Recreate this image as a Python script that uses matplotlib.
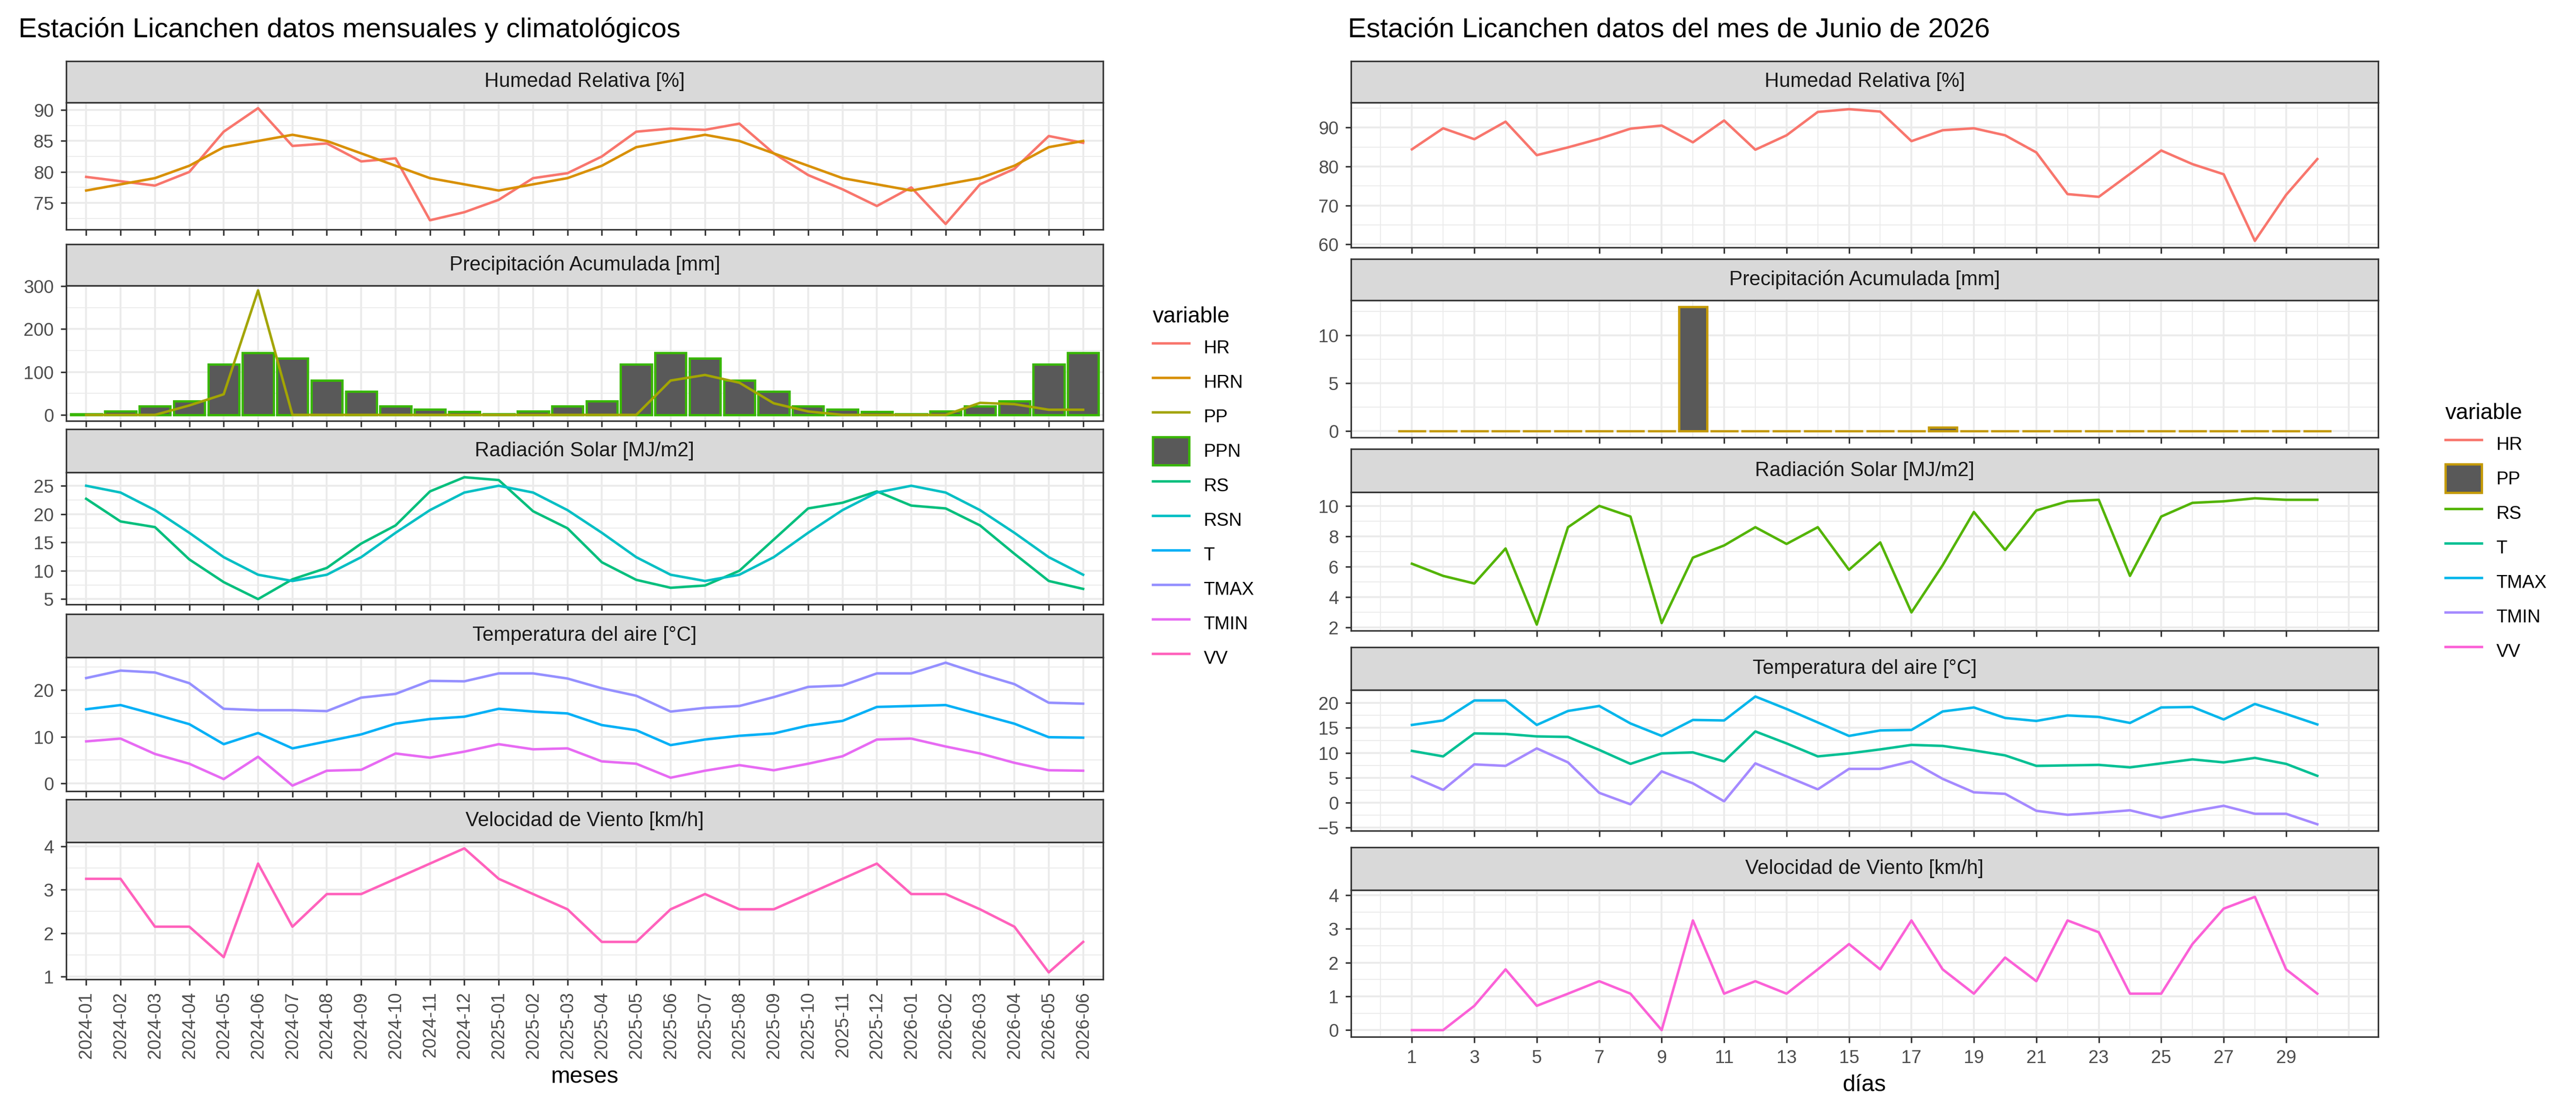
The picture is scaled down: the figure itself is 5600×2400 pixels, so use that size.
import numpy as np
import matplotlib
matplotlib.use('Agg')
import matplotlib.pyplot as plt
from matplotlib.lines import Line2D
from matplotlib.patches import Patch

plt.rcParams['font.family'] = ['Liberation Sans', 'DejaVu Sans']

# ---------------- monthly data ----------------
meses = ['2024-%02d' % m for m in range(1, 13)] + ['2025-%02d' % m for m in range(1, 13)] + ['2026-%02d' % m for m in range(1, 7)]
hr_m = [79.2, 78.5, 77.8, 80, 86.5, 90.3, 84.2, 84.6, 81.7, 82.2, 72.2, 73.5, 75.5, 79, 79.8, 82.5,
        86.5, 87, 86.8, 87.8, 83, 79.5, 77.2, 74.5, 77.5, 71.6, 78, 80.5, 85.8, 84.7]
hrn_year = [77, 78, 79, 81, 84, 85, 86, 85, 83, 81, 79, 78]
pp_m = [0, 0, 0, 22, 48, 290, 0, 0, 0, 0, 0, 0, 0, 0, 0, 0, 0, 80, 93, 75, 27, 8, 0, 0, 0, 0, 28, 25, 12, 12]
ppn_year = [2, 8, 20, 32, 118, 145, 132, 80, 55, 20, 13, 7]
rs_m = [22.7, 18.7, 17.7, 12, 8, 5, 8.5, 10.5, 14.8, 18, 24, 26.5, 26, 20.5, 17.5, 11.5, 8.4, 7, 7.4, 10,
        15.5, 21, 22, 24, 21.5, 21, 18, 13, 8.2, 6.8]
rsn_year = [25, 23.8, 20.7, 16.7, 12.4, 9.3, 8.2, 9.3, 12.4, 16.7, 20.7, 23.8]
t_m = [15.9, 16.8, 14.8, 12.7, 8.4, 10.8, 7.5, 9, 10.5, 12.8, 13.8, 14.3, 16, 15.4, 15, 12.5, 11.4, 8.2,
       9.4, 10.2, 10.7, 12.4, 13.4, 16.4, 16.6, 16.8, 14.8, 12.8, 9.9, 9.8]
tmax_m = [22.6, 24.2, 23.8, 21.5, 16, 15.7, 15.7, 15.5, 18.4, 19.2, 22, 21.9, 23.6, 23.6, 22.5, 20.4, 18.8,
          15.4, 16.2, 16.6, 18.5, 20.7, 21, 23.6, 23.6, 25.9, 23.5, 21.3, 17.3, 17.1]
tmin_m = [9, 9.6, 6.3, 4.2, 0.9, 5.7, -0.5, 2.7, 2.9, 6.4, 5.5, 6.8, 8.4, 7.3, 7.5, 4.7, 4.2, 1.2, 2.7, 3.9,
          2.8, 4.2, 5.8, 9.4, 9.6, 7.9, 6.4, 4.4, 2.8, 2.7]
vv_m = [3.25, 3.25, 2.15, 2.15, 1.45, 3.6, 2.15, 2.9, 2.9, 3.25, 3.6, 3.95, 3.25, 2.9, 2.55, 1.8, 1.8, 2.55,
        2.9, 2.55, 2.55, 2.9, 3.25, 3.6, 2.9, 2.9, 2.55, 2.15, 1.1, 1.8]
hrn_m = [hrn_year[i % 12] for i in range(30)]
ppn_m = [ppn_year[i % 12] for i in range(30)]
rsn_m = [rsn_year[i % 12] for i in range(30)]

# ---------------- daily data ----------------
dias = list(range(1, 31))
hr_d = [84.4, 89.8, 87, 91.5, 82.9, 84.9, 87.1, 89.7, 90.5, 86.2, 91.8, 84.3, 88, 94, 94.7, 94.1, 86.5, 89.3,
        89.8, 88, 83.6, 72.9, 72.2, 78.1, 84.1, 80.6, 78, 60.9, 72.7, 81.9]
pp_d = [0] * 30
pp_d[9] = 13
pp_d[17] = 0.4
rs_d = [6.2, 5.4, 4.9, 7.2, 2.2, 8.6, 10, 9.3, 2.3, 6.6, 7.4, 8.6, 7.5, 8.6, 5.8, 7.6, 3.0, 6.1, 9.6, 7.1,
        9.7, 10.3, 10.4, 5.4, 9.3, 10.2, 10.3, 10.5, 10.4, 10.4]
tmax_d = [15.6, 16.5, 20.5, 20.5, 15.6, 18.4, 19.4, 15.9, 13.4, 16.6, 16.5, 21.3, 18.8, 16.1, 13.4, 14.5, 14.6,
          18.3, 19.1, 17, 16.4, 17.5, 17.2, 16, 19.1, 19.2, 16.7, 19.8, 17.8, 15.7]
t_d = [10.4, 9.3, 13.9, 13.8, 13.3, 13.2, 10.6, 7.8, 9.9, 10.1, 8.3, 14.3, 11.9, 9.3, 9.9, 10.7, 11.6, 11.4,
       10.5, 9.5, 7.4, 7.5, 7.6, 7.1, 7.9, 8.7, 8.1, 9, 7.8, 5.4]
tmin_d = [5.3, 2.6, 7.7, 7.4, 10.9, 8.1, 2, -0.3, 6.3, 3.9, 0.3, 7.9, 5.3, 2.7, 6.8, 6.8, 8.3, 4.8, 2.1, 1.8,
          -1.6, -2.4, -2, -1.5, -3, -1.7, -0.6, -2.2, -2.2, -4.3]
vv_d = [0, 0, 0.72, 1.8, 0.72, 1.08, 1.45, 1.08, 0, 3.25, 1.08, 1.45, 1.08, 1.8, 2.55, 1.8, 3.25, 1.8, 1.08,
        2.15, 1.45, 3.25, 2.9, 1.08, 1.08, 2.55, 3.6, 3.95, 1.8, 1.08]

# ggplot hue palettes
colL = dict(HR='#F8766D', HRN='#D89000', PP='#A3A500', PPN='#39B600', RS='#00BF7D', RSN='#00BFC4',
            T='#00B0F6', TMAX='#9590FF', TMIN='#E76BF3', VV='#FF62BC')
colR = dict(HR='#F8766D', PP='#C49A00', RS='#53B400', T='#00C094', TMAX='#00B6EB', TMIN='#A58AFF', VV='#FB61D7')

W, H = 5600, 2400
fig = plt.figure(figsize=(W / 300, H / 300), dpi=300)


def panel(x0, x1, s0, a0, a1, title, ylim, yticks, xlim):
    # strip
    sa = fig.add_axes([x0 / W, 1 - a0 / H, (x1 - x0) / W, (a0 - s0) / H])
    sa.set_facecolor('#D9D9D9')
    sa.set_xticks([]); sa.set_yticks([])
    for sp in sa.spines.values():
        sp.set_color('#333333'); sp.set_linewidth(0.8)
    sa.text(0.5, 0.5, title, ha='center', va='center', fontsize=10.5, color='#1A1A1A', transform=sa.transAxes)
    ax = fig.add_axes([x0 / W, 1 - a1 / H, (x1 - x0) / W, (a1 - a0) / H])
    ax.set_xlim(*xlim); ax.set_ylim(*ylim)
    ax.set_yticks(yticks)
    step = yticks[1] - yticks[0]
    minors = [yticks[0] - step / 2] + [v + step / 2 for v in yticks]
    for m in minors:
        ax.axhline(m, color='#EBEBEB', lw=0.5, zorder=0)
    for v in yticks:
        ax.axhline(v, color='#EBEBEB', lw=1.0, zorder=0)
    for sp in ax.spines.values():
        sp.set_color('#333333'); sp.set_linewidth(0.8)
    ax.tick_params(axis='y', labelsize=9.5, colors='#333333', length=3, width=0.8, labelcolor='#4D4D4D')
    ax.tick_params(axis='x', labelsize=9.5, colors='#333333', length=3, width=0.8, labelcolor='#4D4D4D')
    return ax


LW = 1.3

# ---------------- left (monthly) ----------------
xm = np.arange(1, 31)
lx0, lx1 = 144, 2398
xlimL = (0.42, 30.58)
rows_L = [(133, 223, 499), (531, 621, 915), (933, 1027, 1314), (1335, 1429, 1720), (1738, 1831, 2129)]


def vgrid_left(ax):
    for i in xm:
        ax.axvline(i, color='#EBEBEB', lw=1.0, zorder=0)
    ax.set_xticks(xm)
    ax.set_xticklabels([])


ax = panel(lx0, lx1, *rows_L[0], 'Humedad Relativa [%]', (70.7, 91.2), [75, 80, 85, 90], xlimL)
vgrid_left(ax)
ax.plot(xm, hr_m, color=colL['HR'], lw=LW)
ax.plot(xm, hrn_m, color=colL['HRN'], lw=LW)

ax = panel(lx0, lx1, *rows_L[1], 'Precipitación Acumulada [mm]', (-14, 301), [0, 100, 200, 300], xlimL)
vgrid_left(ax)
ax.bar(xm, ppn_m, width=0.9, color='#595959', edgecolor=colL['PPN'], linewidth=1.2, zorder=2)
ax.plot(xm, pp_m, color=colL['PP'], lw=LW, zorder=3)

ax = panel(lx0, lx1, *rows_L[2], 'Radiación Solar [MJ/m2]', (4.06, 27.35), [5, 10, 15, 20, 25], xlimL)
vgrid_left(ax)
ax.plot(xm, rs_m, color=colL['RS'], lw=LW)
ax.plot(xm, rsn_m, color=colL['RSN'], lw=LW)

ax = panel(lx0, lx1, *rows_L[3], 'Temperatura del aire [°C]', (-1.7, 27.05), [0, 10, 20], xlimL)
vgrid_left(ax)
ax.plot(xm, t_m, color=colL['T'], lw=LW)
ax.plot(xm, tmax_m, color=colL['TMAX'], lw=LW)
ax.plot(xm, tmin_m, color=colL['TMIN'], lw=LW)

ax = panel(lx0, lx1, *rows_L[4], 'Velocidad de Viento [km/h]', (0.94, 4.09), [1, 2, 3, 4], xlimL)
vgrid_left(ax)
ax.plot(xm, vv_m, color=colL['VV'], lw=LW)
ax.set_xticklabels(meses, rotation=90)
ax.set_xlabel('meses', fontsize=12, color='black')

fig.text(40 / W, 1 - 65 / H, 'Estación Licanchen datos mensuales y climatológicos', fontsize=14.5, va='center')

hL = []
for k in ['HR', 'HRN', 'PP']:
    hL.append(Line2D([], [], color=colL[k], lw=LW))
hL.append(Patch(facecolor='#595959', edgecolor=colL['PPN'], linewidth=1.2))
for k in ['RS', 'RSN', 'T', 'TMAX', 'TMIN', 'VV']:
    hL.append(Line2D([], [], color=colL[k], lw=LW))
fig.legend(hL, ['HR', 'HRN', 'PP', 'PPN', 'RS', 'RSN', 'T', 'TMAX', 'TMIN', 'VV'], title='variable',
           loc='upper left', bbox_to_anchor=(2470 / W, 1 - 630 / H), frameon=False, fontsize=9.5,
           title_fontsize=11.5, handlelength=2.0, handleheight=2.0, labelspacing=0.35, alignment='left')

# ---------------- right (daily) ----------------
xd = np.array(dias)
rx0, rx1 = 2937, 5170
xlimR = (-0.95, 31.95)
rows_R = [(133, 223, 538), (563, 653, 951), (976, 1070, 1371), (1407, 1500, 1806), (1842, 1935, 2254)]


def vgrid_right(ax):
    for i in range(0, 32):
        ax.axvline(i, color='#EBEBEB', lw=1.0 if i % 2 == 1 else 0.5, zorder=0)
    ax.set_xticks(range(1, 30, 2))
    ax.set_xticklabels([])


ax = panel(rx0, rx1, *rows_R[0], 'Humedad Relativa [%]', (59.2, 96.4), [60, 70, 80, 90], xlimR)
vgrid_right(ax)
ax.plot(xd, hr_d, color=colR['HR'], lw=LW)

ax = panel(rx0, rx1, *rows_R[1], 'Precipitación Acumulada [mm]', (-0.65, 13.65), [0, 5, 10], xlimR)
vgrid_right(ax)
ax.bar(xd, pp_d, width=0.9, color='#595959', edgecolor=colR['PP'], linewidth=1.2, zorder=2)

ax = panel(rx0, rx1, *rows_R[2], 'Radiación Solar [MJ/m2]', (1.8, 10.9), [2, 4, 6, 8, 10], xlimR)
vgrid_right(ax)
ax.plot(xd, rs_d, color=colR['RS'], lw=LW)

ax = panel(rx0, rx1, *rows_R[3], 'Temperatura del aire [°C]', (-5.6, 22.6), [-5, 0, 5, 10, 15, 20], xlimR)
vgrid_right(ax)
ax.plot(xd, t_d, color=colR['T'], lw=LW)
ax.plot(xd, tmax_d, color=colR['TMAX'], lw=LW)
ax.plot(xd, tmin_d, color=colR['TMIN'], lw=LW)

ax = panel(rx0, rx1, *rows_R[4], 'Velocidad de Viento [km/h]', (-0.2, 4.15), [0, 1, 2, 3, 4], xlimR)
vgrid_right(ax)
ax.plot(xd, vv_d, color=colR['VV'], lw=LW)
ax.set_xticklabels([str(d) for d in range(1, 30, 2)])
ax.set_xlabel('días', fontsize=12, color='black')

fig.text(2930 / W, 1 - 65 / H, 'Estación Licanchen datos del mes de Junio de 2026', fontsize=14.5, va='center')

hR = [Line2D([], [], color=colR['HR'], lw=LW),
      Patch(facecolor='#595959', edgecolor=colR['PP'], linewidth=1.2)]
for k in ['RS', 'T', 'TMAX', 'TMIN', 'VV']:
    hR.append(Line2D([], [], color=colR[k], lw=LW))
fig.legend(hR, ['HR', 'PP', 'RS', 'T', 'TMAX', 'TMIN', 'VV'], title='variable',
           loc='upper left', bbox_to_anchor=(5280 / W, 1 - 840 / H), frameon=False, fontsize=9.5,
           title_fontsize=11.5, handlelength=2.0, handleheight=2.0, labelspacing=0.35, alignment='left')

fig.savefig('out.png', dpi=300)
